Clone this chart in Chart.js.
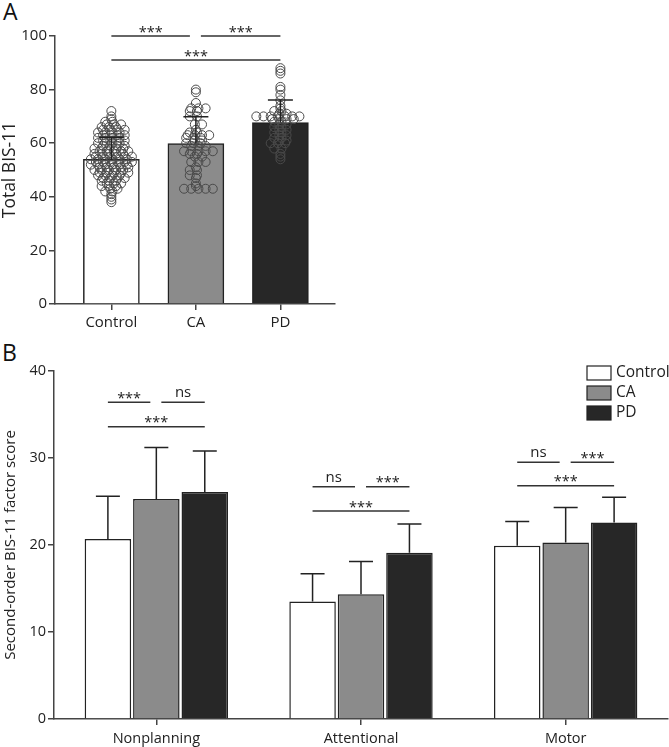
<!DOCTYPE html>
<html lang="en">
<head>
<meta charset="UTF-8">
<title>BIS-11 scores</title>
<script src="https://cdn.jsdelivr.net/npm/chart.js@4.4.1/dist/chart.umd.min.js"></script>
<style>
  body { margin: 0; background: #fff; width: 669px; height: 747px; position: relative; overflow: hidden; font-family: 'Open Sans', sans-serif; }
  .panel { position: absolute; left: 0; }
  #boxA { top: 0; }
  #boxB { top: 340px; }
  .tag { position: absolute; font-size: 23px; color: #111; line-height: 1; }
</style>
</head>
<body>
<div class="tag" style="left:3px;top:0px">A</div>
<div class="tag" style="left:2px;top:341px">B</div>
<div class="panel" id="boxA"><canvas id="chartA" width="340" height="340"></canvas></div>
<div class="panel" id="boxB"><canvas id="chartB" width="669" height="407"></canvas></div>
<script>
    // ---- panel A data ----
    var groups = ['Control', 'CA', 'PD'];
    var totalMean = [54.0, 59.9, 67.7];
    var totalSD = [8.2, 10.0, 8.4];
    var controlTotal = [38, 39, 40, 41, 42, 42, 43, 43, 44, 44, 44, 45, 45, 45, 46, 46, 46,
        47, 47, 47, 47, 48, 48, 48, 48, 49, 49, 49, 49, 49, 50, 50, 50, 50, 50, 51, 51, 51, 51, 51,
        52, 52, 52, 52, 52, 52, 53, 53, 53, 53, 53, 53, 54, 54, 54, 54, 54, 54, 55, 55, 55, 55, 55, 55,
        56, 56, 56, 56, 56, 57, 57, 57, 57, 57, 58, 58, 58, 58, 58, 59, 59, 59, 59, 60, 60, 60, 60,
        61, 61, 61, 61, 62, 62, 62, 62, 63, 63, 63, 63, 64, 64, 64, 64, 65, 65, 65, 65, 66, 66, 66,
        67, 67, 67, 68, 68, 69, 70, 72];
    var caTotal = [43, 43, 43, 43, 43, 44, 45, 47, 48, 48, 50, 50, 51, 53, 53, 53, 55, 55, 56, 56,
        57, 57, 57, 57, 57, 59, 59, 59, 60, 60, 60, 61, 61, 62, 62, 62, 63, 63, 63, 63, 64, 64, 65,
        67, 67, 70, 70, 72, 72, 73, 73, 73, 75, 79, 80];
    var pdTotal = [54, 55, 56, 58, 58, 60, 60, 60, 61, 61, 62, 62, 63, 63, 64, 64, 65, 65, 66, 66,
        67, 67, 68, 68, 69, 69, 69, 69, 70, 70, 70, 70, 70, 70, 70, 71, 71, 72, 72, 73, 74, 76, 78, 80,
        81, 86, 87, 88];
    // significance: Control-CA, CA-PD, Control-PD
    var totalSig = ['***', '***', '***'];
    var totalSigLevel = [100, 91];

    // ---- panel B data ----
    var factors = ['Nonplanning', 'Attentional', 'Motor'];
    var controlFactor = [20.7, 13.5, 19.9];
    var controlFactorSD = [4.9, 3.2, 2.8];
    var caFactor = [25.3, 14.35, 20.3];
    var caFactorSD = [5.9, 3.75, 4.0];
    var pdFactor = [26.1, 19.1, 22.6];
    var pdFactorSD = [4.7, 3.3, 2.9];
    var sigLeft = ['***', 'ns', 'ns'];
    var sigRight = ['ns', '***', '***'];
    var sigLong = ['***', '***', '***'];
    var sigTop = [36.4, 26.7, 29.5];
    var sigLow = [33.6, 23.9, 26.8];

    var fills = ['#ffffff', '#8b8b8b', '#272727'];
    var ink = '#222';
    var axisColor = '#444';
    var fontName = "'Open Sans', sans-serif";

    Chart.defaults.font.family = fontName;
    Chart.defaults.color = ink;

    // spread the points of each score sideways, a simple swarm
    function swarm(values, idx) {
        var bins = {};
        values.forEach(function (v) { (bins[v] = bins[v] || []).push(v); });
        var pts = [];
        Object.keys(bins).forEach(function (k) {
            var n = bins[k].length;
            var shift = (k % 2) ? 0.03 : -0.03;
            if (n === 1) shift = 0;
            for (var i = 0; i < n; i++) {
                pts.push({ x: idx + (i - (n - 1) / 2) * 0.085 + shift, y: +k });
            }
        });
        return pts;
    }

    function drawBracket(ctx, x1, x2, y, label) {
        ctx.beginPath();
        ctx.moveTo(x1, y);
        ctx.lineTo(x2, y);
        ctx.stroke();
        if (label === 'ns') {
            ctx.font = '15px ' + fontName;
            ctx.fillText(label, (x1 + x2) / 2, y - 5);
        } else {
            ctx.font = '14.5px ' + fontName;
            ctx.fillText(label, (x1 + x2) / 2, y + 0.5);
        }
    }

    function errorBar(ctx, x, yMean, yTop, half) {
        ctx.beginPath();
        ctx.moveTo(x, yMean);
        ctx.lineTo(x, yTop);
        ctx.moveTo(x - half, yTop);
        ctx.lineTo(x + half, yTop);
        ctx.stroke();
    }

    var panelAExtras = {
        id: 'panelAExtras',
        afterDatasetsDraw: function (chart) {
            var ctx = chart.ctx;
            var ys = chart.scales.y;
            var bars = chart.getDatasetMeta(1).data;
            ctx.save();
            ctx.strokeStyle = ink;
            ctx.lineWidth = 1.5;
            for (var i = 0; i < bars.length; i++) {
                errorBar(ctx, bars[i].x, ys.getPixelForValue(totalMean[i]),
                    ys.getPixelForValue(totalMean[i] + totalSD[i]), 12.5);
            }
            ctx.strokeStyle = '#333';
            ctx.fillStyle = ink;
            ctx.textAlign = 'center';
            ctx.textBaseline = 'alphabetic';
            var yTop = ys.getPixelForValue(totalSigLevel[0]);
            var yLow = ys.getPixelForValue(totalSigLevel[1]);
            drawBracket(ctx, bars[0].x, bars[1].x - 6, yTop, totalSig[0]);
            drawBracket(ctx, bars[1].x + 5, bars[2].x, yTop, totalSig[1]);
            drawBracket(ctx, bars[0].x, bars[2].x, yLow, totalSig[2]);
            ctx.restore();
        }
    };

    var scatterPoints = swarm(controlTotal, 0).concat(swarm(caTotal, 1), swarm(pdTotal, 2));

    new Chart(document.getElementById('chartA'), {
        type: 'bar',
        data: {
            datasets: [{
                type: 'scatter',
                data: scatterPoints,
                pointRadius: 4.5,
                pointBorderWidth: 1,
                pointBorderColor: '#4a4a4a',
                pointBackgroundColor: 'rgba(0,0,0,0)',
                order: 0
            }, {
                data: totalMean.map(function (m, i) { return { x: i, y: m }; }),
                backgroundColor: fills,
                borderColor: ink,
                borderWidth: 1.5,
                barThickness: 56,
                order: 1
            }]
        },
        options: {
            responsive: false,
            animation: false,
            layout: { padding: { top: 36, right: 2, left: 0, bottom: 0 } },
            plugins: { legend: { display: false }, tooltip: { enabled: false } },
            scales: {
                x: {
                    type: 'linear',
                    offset: false,
                    min: -0.667,
                    max: 2.64,
                    afterBuildTicks: function (s) { s.ticks = [0, 1, 2].map(function (v) { return { value: v }; }); },
                    afterFit: function (s) { s.height = 36; },
                    ticks: {
                        callback: function (v) { return groups[v]; },
                        font: { size: 15 }, color: ink, padding: 4, autoSkip: false, maxRotation: 0
                    },
                    grid: { drawOnChartArea: false, offset: false, tickLength: 6, color: axisColor, lineWidth: 1.5 },
                    border: { color: axisColor, width: 1.5 }
                },
                y: {
                    min: 0,
                    max: 100,
                    afterFit: function (s) { s.width = 55; },
                    ticks: { stepSize: 20, font: { size: 15 }, color: ink, padding: 2 },
                    grid: { drawOnChartArea: false, tickLength: 6, color: axisColor, lineWidth: 1.5 },
                    border: { color: axisColor, width: 1.5 },
                    title: { display: true, text: 'Total BIS-11', font: { size: 17.5 }, color: ink, padding: { top: 0, bottom: 0 } }
                }
            }
        },
        plugins: [panelAExtras]
    });

    var panelBExtras = {
        id: 'panelBExtras',
        afterDatasetsDraw: function (chart) {
            var ctx = chart.ctx;
            var ys = chart.scales.y;
            var sds = [controlFactorSD, caFactorSD, pdFactorSD];
            var means = [controlFactor, caFactor, pdFactor];
            ctx.save();
            ctx.strokeStyle = ink;
            ctx.lineWidth = 1.5;
            for (var d = 0; d < 3; d++) {
                var bars = chart.getDatasetMeta(d).data;
                for (var j = 0; j < bars.length; j++) {
                    errorBar(ctx, bars[j].x, ys.getPixelForValue(means[d][j]),
                        ys.getPixelForValue(means[d][j] + sds[d][j]), 12);
                }
            }
            ctx.strokeStyle = '#333';
            ctx.fillStyle = ink;
            ctx.textAlign = 'center';
            ctx.textBaseline = 'alphabetic';
            for (var k = 0; k < factors.length; k++) {
                var x0 = chart.getDatasetMeta(0).data[k].x;
                var x1 = chart.getDatasetMeta(1).data[k].x;
                var x2 = chart.getDatasetMeta(2).data[k].x;
                var yt = ys.getPixelForValue(sigTop[k]);
                var yl = ys.getPixelForValue(sigLow[k]);
                drawBracket(ctx, x0, x1 - 6, yt, sigLeft[k]);
                drawBracket(ctx, x1 + 5, x2, yt, sigRight[k]);
                drawBracket(ctx, x0, x2, yl, sigLong[k]);
            }
            // legend
            ctx.font = '15.5px ' + fontName;
            ctx.textAlign = 'left';
            ctx.textBaseline = 'middle';
            ctx.lineWidth = 1.2;
            chart.data.datasets.forEach(function (ds, i) {
                var by = 26 + i * 20;
                ctx.fillStyle = ds.backgroundColor;
                ctx.fillRect(587, by, 24, 14);
                ctx.strokeStyle = ink;
                ctx.strokeRect(587, by, 24, 14);
                ctx.fillStyle = ink;
                ctx.fillText(ds.label, 616, by + 7);
            });
            ctx.restore();
        }
    };

    new Chart(document.getElementById('chartB'), {
        type: 'bar',
        data: {
            labels: factors,
            datasets: [
                { label: groups[0], data: controlFactor, backgroundColor: fills[0] },
                { label: groups[1], data: caFactor, backgroundColor: fills[1] },
                { label: groups[2], data: pdFactor, backgroundColor: fills[2] }
            ].map(function (ds) {
                ds.borderColor = ink;
                ds.borderWidth = 1.5;
                ds.barPercentage = 0.96;
                ds.categoryPercentage = 0.71;
                return ds;
            })
        },
        options: {
            responsive: false,
            animation: false,
            layout: { padding: { top: 31, right: 1, left: 0, bottom: 0 } },
            plugins: { legend: { display: false }, tooltip: { enabled: false } },
            scales: {
                x: {
                    afterFit: function (s) { s.height = 28; },
                    ticks: { font: { size: 14.5 }, color: ink, padding: 5, maxRotation: 0 },
                    grid: { drawOnChartArea: false, offset: false, tickLength: 6, color: axisColor, lineWidth: 1.5 },
                    border: { color: axisColor, width: 1.5 }
                },
                y: {
                    min: 0,
                    max: 40,
                    afterFit: function (s) { s.width = 54; },
                    ticks: { stepSize: 10, font: { size: 14.5 }, color: ink, padding: 2 },
                    grid: { drawOnChartArea: false, tickLength: 6, color: axisColor, lineWidth: 1.5 },
                    border: { color: axisColor, width: 1.5 },
                    title: { display: true, text: 'Second-order BIS-11 factor score', font: { size: 15 }, color: ink, padding: { top: 2, bottom: 0 } }
                }
            }
        },
        plugins: [panelBExtras]
    });
</script>
</body>
</html>
